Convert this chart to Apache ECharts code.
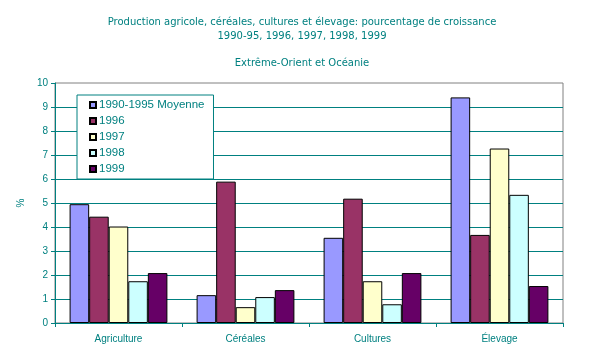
<!DOCTYPE html>
<html>
<head>
<meta charset="utf-8">
<script src="https://cdn.jsdelivr.net/npm/echarts@6/dist/echarts.min.js"></script>
<style>
html,body{margin:0;padding:0;background:#fff;}
#chart{width:593px;height:361px;}
</style>
</head>
<body>
<div id="chart"></div>
<script>
var categories = ['Agriculture', 'Céréales', 'Cultures', 'Élevage'];
var seriesNames = ['1990-1995 Moyenne', '1996', '1997', '1998', '1999'];
var s1990_95 = [4.95, 1.16, 3.55, 9.4];
var s1996 = [4.43, 5.89, 5.18, 3.67];
var s1997 = [4.02, 0.66, 1.74, 7.27];
var s1998 = [1.74, 1.08, 0.78, 5.34];
var s1999 = [2.08, 1.37, 2.08, 1.54];
var seriesValues = [s1990_95, s1996, s1997, s1998, s1999];
var seriesColors = ['#9999FF', '#993366', '#FFFFCC', '#CCFFFF', '#660066'];
var titleLines = ['Production agricole, céréales, cultures et élevage: pourcentage de croissance',
                  '1990-95, 1996, 1997, 1998, 1999', 'Extrême-Orient et Océanie'];

var teal = '#008080';
var font = 'Liberation Sans, Arial, sans-serif';
var titleFont = 'DejaVu Sans, Verdana, sans-serif';
var chart = echarts.init(document.getElementById('chart'), null, {renderer: 'canvas'});

function titleItem(text, top) {
  return {text: text, left: 302, top: top, textAlign: 'center', padding: 0,
          textStyle: {fontFamily: titleFont, fontSize: 10, fontWeight: 'normal', color: teal}};
}

var option = {
  backgroundColor: '#ffffff',
  animation: false,
  title: [titleItem(titleLines[0], 17), titleItem(titleLines[1], 31), titleItem(titleLines[2], 58)],
  legend: {
    orient: 'vertical', left: 77, top: 95,
    data: seriesNames,
    backgroundColor: '#ffffff', borderColor: teal, borderWidth: 1,
    padding: [2, 9, 2, 12],
    itemWidth: 6, itemHeight: 6, itemGap: 0,
    icon: 'rect',
    textStyle: {fontFamily: font, fontSize: 11.5, lineHeight: 16, color: teal, padding: [0, 0, 0, -2]}
  },
  grid: {left: 55, right: 30, top: 83, bottom: 38, show: true, borderColor: '#808080', borderWidth: 1, backgroundColor: 'transparent'},
  xAxis: {
    type: 'category', data: categories,
    axisLine: {lineStyle: {color: teal, width: 1}},
    axisTick: {show: true, length: 4, lineStyle: {color: teal}},
    axisLabel: {fontFamily: font, fontSize: 10, color: teal, margin: 11}
  },
  yAxis: {
    type: 'value', min: 0, max: 10, interval: 1,
    name: '%', nameLocation: 'middle', nameRotate: 90, nameGap: 24,
    nameTextStyle: {fontFamily: font, fontSize: 10, color: teal},
    axisLine: {show: true, lineStyle: {color: teal, width: 1}},
    axisTick: {show: true, length: 4, lineStyle: {color: teal}},
    axisLabel: {fontFamily: font, fontSize: 10, color: teal, margin: 7},
    splitLine: {show: true, showMinLine: false, showMaxLine: false, lineStyle: {color: teal, width: 1}}
  },
  series: seriesNames.map(function (n, i) {
    return {
      name: n, type: 'bar', data: seriesValues[i],
      barGap: '0%', barCategoryGap: '23%',
      itemStyle: {color: seriesColors[i], borderColor: '#000000', borderWidth: 1}
    };
  })
};
chart.setOption(option);
</script>
</body>
</html>
